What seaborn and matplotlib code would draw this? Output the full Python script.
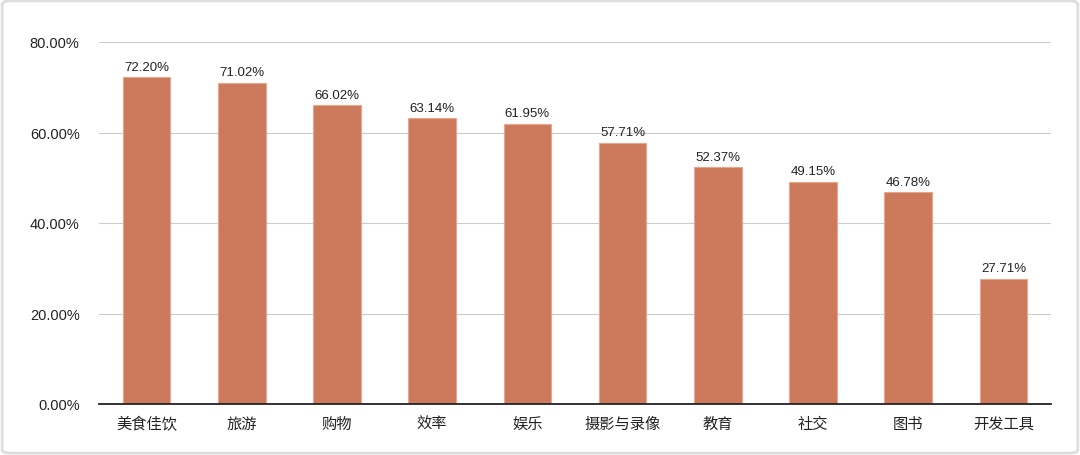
import matplotlib
matplotlib.use("Agg")
import matplotlib.pyplot as plt
from matplotlib.patches import FancyBboxPatch
import seaborn as sns
import pandas as pd

# data
categories = ['美食佳饮', '旅游', '购物', '效率', '娱乐', '摄影与录像', '教育', '社交', '图书', '开发工具']
values = [72.20, 71.02, 66.02, 63.14, 61.95, 57.71, 52.37, 49.15, 46.78, 27.71]
yticks = [0, 20, 40, 60, 80]

df = pd.DataFrame({'category': categories, 'value': values})

sns.set_style('white')
fonts = ['Liberation Sans', 'Noto Sans CJK SC', 'DejaVu Sans']
plt.rcParams['font.family'] = fonts

fig = plt.figure(figsize=(10.8, 4.56), dpi=100)
ax = fig.add_axes([99 / 1080, 1 - 405 / 456, 952 / 1080, 362 / 456])

sns.barplot(data=df, x='category', y='value', color='#CD7A5C', saturation=1,
            width=0.5, edgecolor='#EBA58C', linewidth=0.8, ax=ax, zorder=3)

for i, v in enumerate(values):
    ax.text(i, v + 1.0, f'{v:.2f}%', ha='center', va='bottom', fontsize=9.5,
            color='#222222', family=fonts)

ax.set_ylim(0, 80)
ax.set_xlim(-0.5, len(categories) - 0.5)
ax.set_yticks(yticks)
ax.set_yticklabels([f'{t:.2f}%' for t in yticks], fontsize=10.5, color='#222222')
ax.tick_params(axis='x', labelsize=11, colors='#222222', length=0, pad=8)
ax.tick_params(axis='y', length=0, pad=14)
for lab in ax.get_xticklabels():
    lab.set_family(['Noto Sans CJK SC', 'DejaVu Sans'])
ax.set_xlabel('')
ax.set_ylabel('')
ax.grid(axis='y', color='#CCCCCC', linewidth=0.8, zorder=0)
for s in ['top', 'right', 'left']:
    ax.spines[s].set_visible(False)
ax.spines['bottom'].set_color('#222222')
ax.spines['bottom'].set_linewidth(1.3)
ax.spines['bottom'].set_zorder(4)

# rounded light border around the figure
border = FancyBboxPatch((0.002, 0.004), 0.996, 0.992, boxstyle='round,pad=0,rounding_size=0.008',
                        transform=fig.transFigure, fill=False, edgecolor='#DDDDDD', linewidth=2)
fig.patches.append(border)

fig.savefig('out.png', dpi=100)
